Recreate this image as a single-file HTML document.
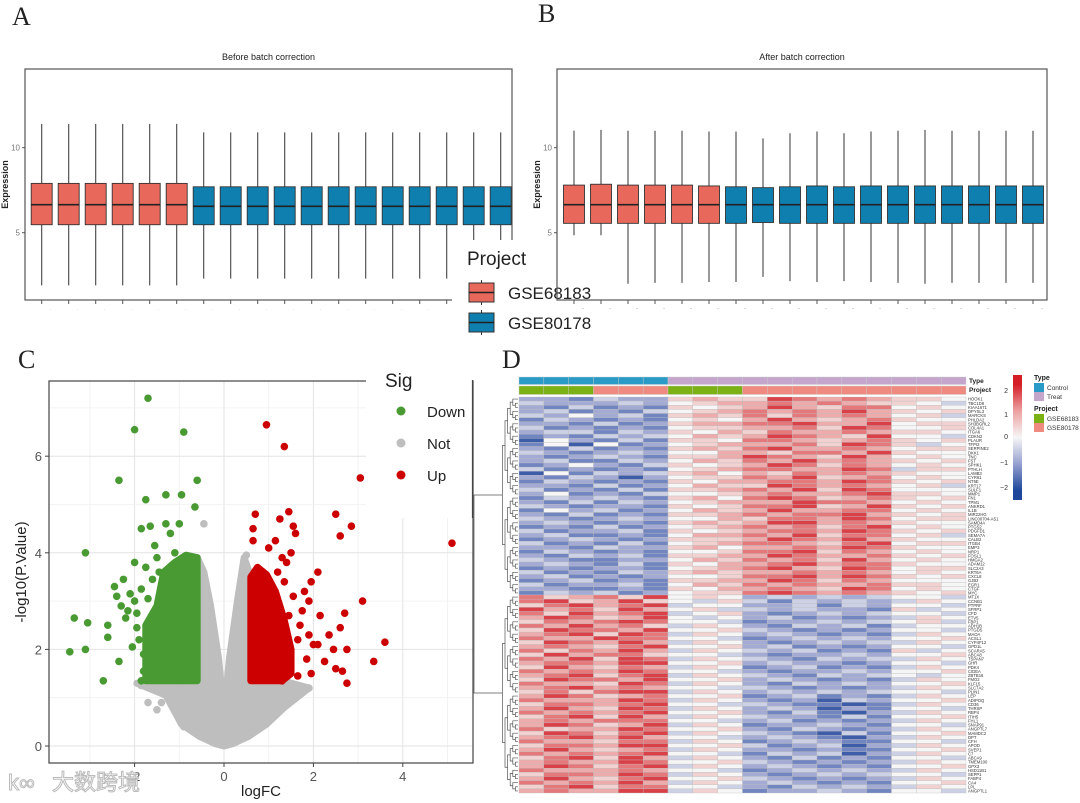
<!DOCTYPE html>
<html><head><meta charset="utf-8">
<style>
html,body{margin:0;padding:0;background:#fff;}
svg{display:block;}
text{font-family:"Liberation Sans",Arial,sans-serif;}
</style></head>
<body>
<svg id="fig" xmlns="http://www.w3.org/2000/svg" width="1080" height="803" viewBox="0 0 1080 803">
<rect width="1080" height="803" fill="#fff"/>
<g id="gA"></g>
<g id="gB"></g>
<g id="gC"></g>
<g id="gD"></g>
<text x="12" y="25" font-size="26" fill="#222" style="font-family:'Liberation Serif',serif">A</text>
<text x="538" y="22" font-size="26" fill="#222" style="font-family:'Liberation Serif',serif">B</text>
<text x="18" y="368" font-size="26" fill="#222" style="font-family:'Liberation Serif',serif">C</text>
<text x="502" y="368" font-size="26" fill="#222" style="font-family:'Liberation Serif',serif">D</text>
</svg>
<script>
// ---------- Boxplot data ----------
const boxSamples = 18;
const boxGroupA = ['GSE68183','GSE68183','GSE68183','GSE68183','GSE68183','GSE68183','GSE80178','GSE80178','GSE80178','GSE80178','GSE80178','GSE80178','GSE80178','GSE80178','GSE80178','GSE80178','GSE80178','GSE80178'];
const beforeQ1 = [5.47,5.47,5.47,5.47,5.47,5.47,5.47,5.47,5.47,5.47,5.47,5.47,5.47,5.47,5.47,5.47,5.47,5.47];
const beforeMed = [6.65,6.65,6.65,6.65,6.65,6.65,6.55,6.55,6.55,6.55,6.55,6.55,6.55,6.55,6.55,6.55,6.55,6.55];
const beforeQ3 = [7.9,7.9,7.9,7.9,7.9,7.9,7.7,7.7,7.7,7.7,7.7,7.7,7.7,7.7,7.7,7.7,7.7,7.7];
const beforeLo = [1.9,1.9,1.9,1.9,1.9,1.9,2.3,2.3,2.3,2.3,2.3,2.3,2.3,2.3,2.3,2.3,2.3,2.3];
const beforeHi = [11.4,11.4,11.4,11.4,11.4,11.4,10.9,10.9,10.9,10.9,10.9,10.9,10.9,10.9,10.9,10.9,10.9,10.9];
const afterQ1 = [5.55,5.55,5.55,5.55,5.55,5.55,5.55,5.6,5.55,5.55,5.55,5.55,5.55,5.55,5.55,5.55,5.55,5.55];
const afterMed = [6.65,6.65,6.65,6.65,6.65,6.65,6.65,6.65,6.65,6.65,6.65,6.65,6.65,6.65,6.65,6.65,6.65,6.65];
const afterQ3 = [7.8,7.85,7.8,7.8,7.8,7.75,7.7,7.65,7.7,7.75,7.7,7.75,7.75,7.75,7.75,7.75,7.75,7.75];
const afterLo = [4.85,4.85,2.0,2.05,2.05,2.1,2.1,2.4,2.15,2.1,2.15,2.1,2.05,2.0,2.05,2.05,2.05,2.05];
const afterHi = [11.0,11.05,11.0,11.0,11.0,10.95,10.95,10.55,10.85,10.95,10.85,10.95,11.0,11.05,11.0,11.0,11.0,11.0];
const yTicksBox = [5,10];

// ---------- Volcano data ----------
const downX = [-1.7,-2.0,-0.9,-2.35,-0.6,-1.3,-0.95,-1.75,-0.65,-3.1,-3.35,-3.05,-3.45,-3.1,-2.6,-2.6,-2.35,-2.7,-2.45,-2.25,-2.1,-2.0,-2.2,-1.95,-1.85,-1.65,-1.3,-1.0,-1.55,-2.0,-1.75,-1.6,-1.9,-1.8,-1.6,-1.85,-2.4,-2.3,-1.5,-1.2,-1.1,-2.05,-1.95,-1.7,-1.45,-1.85,-1.65,-2.15,-1.8,-1.55];
const downY = [7.2,6.55,6.5,5.5,5.5,5.2,5.2,5.1,4.95,4.0,2.65,2.55,1.95,2.0,2.5,2.25,1.75,1.35,3.3,3.45,3.15,3.0,2.65,2.45,4.5,4.55,4.6,4.6,4.15,3.8,3.7,3.45,2.2,1.9,1.6,1.35,3.1,2.9,3.9,4.4,4.0,2.05,2.75,3.05,3.6,3.25,2.35,2.8,1.55,1.8];
const upX = [0.95,1.35,3.05,2.85,2.5,2.6,5.1,3.1,3.6,3.35,2.75,2.65,2.5,2.75,2.6,2.7,2.35,2.15,2.1,1.95,1.9,1.8,2.0,1.95,1.85,1.65,2.25,2.45,1.45,1.25,0.7,1.55,1.6,1.5,1.15,0.65,0.65,1.0,1.75,2.1,1.4,1.3,1.7,1.9,1.3,1.55,1.45,1.65,1.35,1.2];
const upY = [6.65,6.2,5.55,4.55,4.8,4.35,4.2,3.0,2.15,1.75,1.3,1.55,1.6,2.0,2.45,2.75,2.3,2.7,3.6,3.4,3.0,3.2,2.1,1.5,1.8,1.45,1.75,2.0,4.85,4.7,4.8,4.55,4.4,4.0,4.25,4.5,4.25,4.1,2.8,2.1,3.8,3.9,2.5,2.3,1.35,3.1,2.7,2.2,3.4,3.6];
const notX = [-0.45,0.5,0.5,-1.85,-1.7,-1.5,-1.4,1.9,1.25,-0.9,-0.75,-0.4,0.7,1.45,-0.3];
const notY = [4.6,3.95,3.75,1.25,0.9,0.75,0.9,1.2,0.75,0.4,0.4,2.9,1.1,1.2,2.5];
const denseDownX = [-1.75,-1.75,-1.5,-1.35,-1.1,-0.85,-0.6,-0.6];
const denseDownY = [1.35,2.5,2.9,3.6,3.8,3.95,3.9,1.35];
const denseUpX = [0.6,0.6,0.75,0.95,1.15,1.35,1.5,1.5,1.3];
const denseUpY = [1.35,3.5,3.7,3.55,3.2,2.6,2.0,1.5,1.35];
const notCloudX = [-1.95,-1.3,-0.95,-0.55,-0.2,0,0.2,0.55,0.95,1.35,1.9,1.3,0.6,0.6,0.45,0.3,0.12,0,-0.12,-0.3,-0.45,-0.6,-0.6];
const notCloudY = [1.3,1.05,0.45,0.2,0.05,0,0.05,0.2,0.45,0.8,1.2,1.35,1.35,3.5,3.9,3.0,1.8,0.6,1.8,2.9,3.6,3.9,1.35];
const volXTicks = [-2,0,2,4];
const volYTicks = [0,2,4,6];

// ---------- Heatmap data ----------
const hmType = ['Control','Control','Control','Control','Control','Control','Treat','Treat','Treat','Treat','Treat','Treat','Treat','Treat','Treat','Treat','Treat','Treat'];
const hmProject = ['GSE68183','GSE68183','GSE68183','GSE80178','GSE80178','GSE80178','GSE68183','GSE68183','GSE68183','GSE80178','GSE80178','GSE80178','GSE80178','GSE80178','GSE80178','GSE80178','GSE80178','GSE80178'];
const hmRows = [
"221322565587676554","322232456676765543","213121545686577454","231213456767686545","324231565757676453","132121454686567544",
"221312566778668455","312121455667587445","233132546576676554","121323465687658443","042131554776567545","140412456667587534",
"213121565786676455","321232446657768544","212321556876586454","231132465768676545","124213545687576454","312121456776687355",
"041323564657676544","213202455768567454","132121546677687545","221312465587676453","312131556768587444","241213445676678554",
"132321564787567545","213132456668776454","321221545778568545","142312465686677454","213121556767786545","321232446577687455",
"232121565688676544","121312456767578454","312231545677687545","231121466768577453","123212555687686544","312131456776578455",
"221322564667687544","132121445778576454","213231556687667545","321122465767586454","232131546678677544","121221456786587455",
"312132565667676454","231212445778687545","123121556687576444","312231465767667554","221121546676587454","132312455787676545",
"756758454232323443","785685435313232354","578678344223132443","867586453323221534","758678345212323443","687568434231212354",
"576787443122323453","768675354213231344","587768445321212443","678587354232121354","766877443123232445","587686354212323354",
"676578445231212443","757686354323121534","586775443212232445","768587354321323354","677688445232212443","586576354123121354",
"767687443212232445","678578354321323434","587768445232121354","766587354213232445","678676443321212354","575788354232323443",
"687567445123121354","766687354212032445","577678443321101354","686587354232021443","767678445213102354","578586354322131445",
"676777443231212354","687568354122321443","756687445213212354","587578354321031445","678686443232102354","766577354123211443",
"577688445312302354","686567354221211445","767678443132302354","578586354213121443","676687445321212354","687578354232121445",
"766676443123232354","577687354212323443","686578445321212354","767686354232121445","578577443213232354","676688354122321443"];
const hmGenes = ["HOOK1","TBC1D8","KIAA1671","DPYSL3","MARCKS","PHLDA2","SH3BGRL2","COL4A1","ITGA6","CDKN2","PLAUR","TFPI2","SERPINE2","DKK1","TNC","FST","SPHK1","PTHLH","LAMB3","CYR61","NT5E","KRT17","SULF1","MMP1","FN1","TPM1","ANKRD1","IL1B","MIR22HG","LINC00704-AS1","SAMD4A","PTGS2","PDGFD1","SEMA7A","CALB2","ITGB4","EMP3","NRP1","FOSL1","HMGA2","ADAM12","SLC2A3","KRT6A","CXCL8","GJB2","EGR1","CTGF","MYC",
"MT1X","CCNB1","PTPRF","SFRP1","CFD","ETV5","FBP1","ADH1B","PTGDS","MAOA","ACSL1","CYP4F12","GPD1L","SCARA5","ABCA8","TSPAN7","GHR","PDK4","CIDEA","ZBTB16","FMO2","KLF15","SLC7A2","PLIN1","LEP","ADIPOQ","CD36","THRSP","RBP4","ITIH5","FHL1","SNAP91","ANGPTL7","MAMDC2","DPT","CFH","APOD","SVEP1","C7","ABCA9","TMEM100","GPX3","HSD11B1","SEPP1","FABP4","CA4","LPL","ANGPTL1"];

const NS='http://www.w3.org/2000/svg';
function mk(parent, tag, attrs, name, inter){
  const e=document.createElementNS(NS,tag);
  for(const k in attrs) e.setAttribute(k,attrs[k]);
  
  
  parent.appendChild(e); return e;
}
function txt(parent, x, y, s, size, fill, name, extra){
  const t=mk(parent,'text',Object.assign({x:x,y:y,'font-size':size,fill:fill},extra||{}),name,false);
  t.textContent=s; return t;
}
const RED='#e8695c', BLUE='#0f7fb0';

function boxPanel(g, x0, x1, y0, y1, c0, title, q1, med, q3, lo, hi, tickStyle){
  const yv = v => 232.7 - (v-5)*17;
  const xc = i => c0 + i*27;
  mk(g,'rect',{x:x0,y:y0,width:x1-x0,height:y1-y0,fill:'none',stroke:'#555','stroke-width':1.2},'plot-frame',false);
  txt(g,(x0+x1)/2,y0-9,title,9,'#222','plot-title',{'text-anchor':'middle'});
  txt(g,x0-17,(y0+y1)/2,'Expression',9,'#222','y-axis-title',{'text-anchor':'middle',transform:'rotate(-90 '+(x0-17)+' '+((y0+y1)/2)+')','font-weight':'bold'});
  yTicksBox.forEach(v=>{
    mk(g,'line',{x1:x0-3,x2:x0,y1:yv(v),y2:yv(v),stroke:'#555'},'y-tick',false);
    txt(g,x0-5,yv(v)+3,String(v),8,'#777','y-tick-label',{'text-anchor':'end'});
  });
  for(let i=0;i<boxSamples;i++){
    const c=xc(i), col = boxGroupA[i]==='GSE68183'?RED:BLUE;
    mk(g,'line',{x1:c,x2:c,y1:yv(hi[i]),y2:yv(lo[i]),stroke:'#444','stroke-width':1.1},'whisker-'+(i+1),false);
    mk(g,'rect',{x:c-10.5,y:yv(q3[i]),width:21,height:yv(q1[i])-yv(q3[i]),fill:col,stroke:'#333','stroke-width':0.9},'box-'+(i+1),false);
    mk(g,'line',{x1:c-10.5,x2:c+10.5,y1:yv(med[i]),y2:yv(med[i]),stroke:'#222','stroke-width':1.6},'median-'+(i+1),false);
    mk(g,'line',{x1:c,x2:c,y1:y1,y2:y1+4,stroke:'#555'},'x-tick',false);
    txt(g,c+9,y1+10,tickStyle,4,'#777','x-tick-label',{'text-anchor':'middle'});
  }
}
const gA=document.getElementById('gA'), gB=document.getElementById('gB');
boxPanel(gA,25,512,69,300,41.7,'Before batch correction',beforeQ1,beforeMed,beforeQ3,beforeLo,beforeHi,'.');
boxPanel(gB,557,1047,69,300,574,'After batch correction',afterQ1,afterMed,afterQ3,afterLo,afterHi,'~');
const lg=mk(gA,'g',{},'project-legend',false);
mk(lg,'rect',{x:452,y:240,width:100,height:100,fill:'#fff'},'legend-background',false);
txt(lg,467,265,'Project',19,'#222','legend-title');
[[RED,'GSE68183',283],[BLUE,'GSE80178',313]].forEach(([c,l,y])=>{
  mk(lg,'line',{x1:481.5,x2:481.5,y1:y-3,y2:y+22,stroke:'#333'},'legend-key-whisker',false);
  mk(lg,'rect',{x:469,y:y,width:25,height:19,fill:c,stroke:'#333'},'legend-key-'+l,false);
  mk(lg,'line',{x1:469,x2:494,y1:y+9.5,y2:y+9.5,stroke:'#222','stroke-width':1.5},'legend-key-median',false);
  txt(lg,508,y+16,l,17,'#222','legend-label-'+l);
});

// ---------- Volcano ----------
const gC=document.getElementById('gC');
const vx = v => 224 + v*44.7, vy = v => 746 - v*48.3;
const VL=49, VR=473, VT=381, VB=763;
mk(gC,'rect',{x:VL,y:VT,width:VR-VL,height:VB-VT,fill:'#fff'},'plot-background',false);
for(let v=-3;v<=5;v+=1){ mk(gC,'line',{x1:vx(v),x2:vx(v),y1:VT,y2:VB,stroke:v%2===0?'#e3e3e3':'#f0f0f0','stroke-width':v%2===0?1:0.8},'x-grid',false); }
for(let v=0;v<=7;v+=1){ mk(gC,'line',{x1:VL,x2:VR,y1:vy(v),y2:vy(v),stroke:v%2===0?'#e3e3e3':'#f0f0f0','stroke-width':v%2===0?1:0.8},'y-grid',false); }
function poly(xs,ys,col,name){
  const pts=xs.map((x,i)=>vx(x)+','+vy(ys[i])).join(' ');
  mk(gC,'polygon',{points:pts,fill:col,stroke:col,'stroke-width':7,'stroke-linejoin':'round'},name,false);
}
poly(notCloudX,notCloudY,'#bebebe','not-sig-cloud');
notX.forEach((x,i)=>mk(gC,'circle',{cx:vx(x),cy:vy(notY[i]),r:3.8,fill:'#bebebe'},'point-not',false));
poly(denseDownX,denseDownY,'#4a9a33','down-dense-cloud');
poly(denseUpX,denseUpY,'#cc0000','up-dense-cloud');
downX.forEach((x,i)=>mk(gC,'circle',{cx:vx(x),cy:vy(downY[i]),r:3.8,fill:'#4a9a33'},'point-down',false));
upX.forEach((x,i)=>mk(gC,'circle',{cx:vx(x),cy:vy(upY[i]),r:3.8,fill:'#cc0000'},'point-up',false));
mk(gC,'rect',{x:VL,y:VT,width:VR-VL,height:VB-VT,fill:'none',stroke:'#444','stroke-width':1.2},'plot-frame',false);
volXTicks.forEach(v=>{ mk(gC,'line',{x1:vx(v),x2:vx(v),y1:VB,y2:VB+4,stroke:'#444'},'x-tick',false); txt(gC,vx(v),VB+18,String(v),13,'#555','x-tick-label',{'text-anchor':'middle'}); });
volYTicks.forEach(v=>{ mk(gC,'line',{x1:VL-4,x2:VL,y1:vy(v),y2:vy(v),stroke:'#444'},'y-tick',false); txt(gC,VL-7,vy(v)+5,String(v),13,'#555','y-tick-label',{'text-anchor':'end'}); });
txt(gC,261,796,'logFC',15,'#222','x-axis-title',{'text-anchor':'middle'});
txt(gC,26,572,'-log10(P.Value)',15,'#222','y-axis-title',{'text-anchor':'middle',transform:'rotate(-90 26 572)'});
const sl=mk(gC,'g',{},'sig-legend',false);
mk(sl,'rect',{x:366,y:355,width:106,height:163,fill:'#fff'},'legend-background',false);
mk(sl,'line',{x1:472.5,x2:472.5,y1:380,y2:518,stroke:'#444','stroke-width':1.2},'frame-right-edge',false);
txt(sl,385,387,'Sig',19,'#222','legend-title');
[['#4a9a33','Down',411],['#bebebe','Not',443],['#cc0000','Up',475]].forEach(([c,l,y])=>{
  mk(sl,'circle',{cx:401,cy:y,r:4.5,fill:c},'legend-key-'+l.toLowerCase(),false);
  txt(sl,427,y+6,l,15,'#222','legend-label-'+l.toLowerCase());
});
txt(gC,52,790,'大数跨境',22,'#fff','watermark',{stroke:'#bbb','stroke-width':1,style:'font-family:"Liberation Sans","Noto Sans CJK SC",sans-serif'});
txt(gC,8,790,'k∞',22,'#fff','watermark-logo',{stroke:'#bbb','stroke-width':1});

// ---------- Heatmap ----------
const gD=document.getElementById('gD');
const HL=519, HR=966, HT=397, HB=793;
const cw=(HR-HL)/hmType.length, rh=(HB-HT)/hmRows.length;
const stops=[[-2,[30,70,155]],[-1,[150,160,208]],[0,[246,246,246]],[1,[236,160,160]],[2,[212,30,40]]];
function colorOf(v){
  for(let i=0;i<stops.length-1;i++){
    const [a,ca]=stops[i],[b,cb]=stops[i+1];
    if(v<=b){const t=(v-a)/(b-a);return 'rgb('+ca.map((c,k)=>Math.round(c+(cb[k]-c)*t)).join(',')+')';}
  }
  return 'rgb(212,30,40)';
}
const typeCol={Control:'#2a9bc7',Treat:'#c4a5cc'}, projCol={GSE68183:'#7cb116',GSE80178:'#ee8a80'};
hmType.forEach((t,j)=>{
  mk(gD,'rect',{x:HL+j*cw,y:377,width:cw,height:7.5,fill:typeCol[t],stroke:'#ccc','stroke-width':0.4},'type-annotation-cell',false);
  mk(gD,'rect',{x:HL+j*cw,y:386,width:cw,height:8.5,fill:projCol[hmProject[j]],stroke:'#ccc','stroke-width':0.4},'project-annotation-cell',false);
});
txt(gD,969,383,'Type',6.5,'#222','type-annotation-label',{'font-weight':'bold'});
txt(gD,969,392,'Project',6.5,'#222','project-annotation-label',{'font-weight':'bold'});
hmRows.forEach((row,i)=>{
  for(let j=0;j<row.length;j++){
    const v=(parseInt(row[j])-4)/2.3;
    mk(gD,'rect',{x:HL+j*cw,y:HT+i*rh,width:cw,height:rh,fill:colorOf(v),stroke:'#bcbcbc','stroke-width':0.35},'heatmap-cell',false);
  }
  txt(gD,968,HT+i*rh+rh-0.5,hmGenes[i]||'',4.2,'#333','gene-label');
});
const dg=mk(gD,'g',{fill:'none',stroke:'#555','stroke-width':0.7},'row-dendrogram',false);
const half=hmRows.length/2;
function subtree(start,end,xRight,depth){
  if(end-start<=1){return {y:HT+(start+0.5)*rh,x:xRight};}
  const mid=Math.floor((start+end)/2);
  const a=subtree(start,mid,xRight,depth+1), b=subtree(mid,end,xRight,depth+1);
  const x=Math.min(a.x,b.x)-2.6;
  mk(dg,'path',{d:'M'+a.x+' '+a.y+'H'+x+'V'+b.y+'H'+b.x},'dendrogram-branch',false);
  return {y:(a.y+b.y)/2,x:x};
}
const t1=subtree(0,half,518,0), t2=subtree(half,hmRows.length,518,0);
mk(dg,'path',{d:'M'+t1.x+' '+t1.y+'H474V'+t2.y+'H'+t2.x},'dendrogram-root',false);
const defs=mk(gD,'defs',{},'defs',false);
const lgd=mk(defs,'linearGradient',{id:'cb',x1:0,y1:1,x2:0,y2:0},'colorbar-gradient',false);
stops.forEach(([v,c])=>mk(lgd,'stop',{offset:(v+2.35)/4.7,'stop-color':'rgb('+c.join(',')+')'},'gradient-stop',false));
mk(gD,'rect',{x:1013,y:375,width:9,height:125,fill:'url(#cb)'},'colorbar',false);
[[2,390],[1,414],[0,436],[-1,462],[-2,487]].forEach(([v,y])=>txt(gD,1008,y+3,v<0?'−'+(-v):String(v),7,'#333','colorbar-label',{'text-anchor':'end'}));
txt(gD,1034,380,'Type',7,'#222','legend-type-title',{'font-weight':'bold'});
mk(gD,'rect',{x:1034,y:383,width:10,height:9,fill:typeCol.Control},'legend-control-key',false);
txt(gD,1047,390,'Control',6.5,'#333','legend-control-label');
mk(gD,'rect',{x:1034,y:392,width:10,height:9,fill:typeCol.Treat},'legend-treat-key',false);
txt(gD,1047,399,'Treat',6.5,'#333','legend-treat-label');
txt(gD,1034,411,'Project',7,'#222','legend-project-title',{'font-weight':'bold'});
mk(gD,'rect',{x:1034,y:414,width:10,height:9,fill:projCol.GSE68183},'legend-gse68183-key',false);
txt(gD,1047,421,'GSE68183',6.5,'#333','legend-gse68183-label');
mk(gD,'rect',{x:1034,y:423,width:10,height:9,fill:projCol.GSE80178},'legend-gse80178-key',false);
txt(gD,1047,430,'GSE80178',6.5,'#333','legend-gse80178-label');
</script>
</body></html>
